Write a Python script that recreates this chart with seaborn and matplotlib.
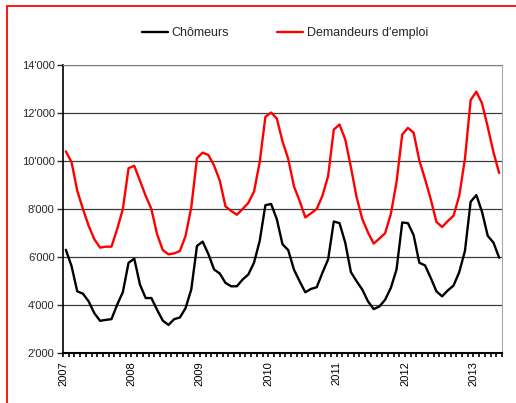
import matplotlib
matplotlib.use("Agg")
import matplotlib.pyplot as plt
import matplotlib.patches as patches
from matplotlib.ticker import FuncFormatter, MultipleLocator, FixedLocator
import seaborn as sns
import pandas as pd
import numpy as np

# monthly values, Jan 2007 - May 2013
chomeurs = [
    6300, 5620, 4570, 4470, 4150, 3660, 3340, 3380, 3410, 4010, 4540, 5760,
    5930, 4850, 4290, 4290, 3800, 3350, 3170, 3410, 3480, 3870, 4650, 6460,
    6640, 6120, 5480, 5310, 4920, 4780, 4780, 5060, 5270, 5760, 6670, 8160,
    8210, 7580, 6530, 6290, 5480, 4990, 4530, 4670, 4740, 5340, 5900, 7480,
    7410, 6600, 5370, 4990, 4640, 4150, 3830, 3940, 4220, 4710, 5480, 7440,
    7410, 6910, 5760, 5650, 5130, 4570, 4360, 4610, 4810, 5370, 6250, 8300,
    8580, 7880, 6880, 6600, 5970,
]
demandeurs = [
    10400, 9950, 8760, 8000, 7300, 6740, 6390, 6430, 6430, 7160, 8000, 9700,
    9800, 9180, 8550, 8000, 6950, 6290, 6110, 6150, 6250, 6880, 8070, 10120,
    10350, 10250, 9810, 9180, 8110, 7920, 7760, 8000, 8250, 8720, 9950, 11840,
    12020, 11770, 10820, 10090, 8950, 8340, 7650, 7820, 8000, 8550, 9370, 11310,
    11520, 10900, 9740, 8490, 7580, 7020, 6560, 6770, 6990, 7790, 9120, 11100,
    11380, 11180, 10020, 9250, 8410, 7460, 7250, 7500, 7720, 8550, 10090, 12540,
    12890, 12400, 11420, 10370, 9500,
]
years = ["2007", "2008", "2009", "2010", "2011", "2012", "2013"]
series_names = ["Chômeurs", "Demandeurs d'emploi"]
colors = ["#000000", "#ff0000"]

month = np.arange(len(chomeurs))
df = pd.DataFrame({
    "mois": np.concatenate([month, month]),
    "valeur": chomeurs + demandeurs,
    "serie": [series_names[0]] * len(chomeurs) + [series_names[1]] * len(demandeurs),
})

sns.set_style("white")
plt.rcParams["font.family"] = ["Liberation Sans", "DejaVu Sans"]

fig = plt.figure(figsize=(5.16, 4.03), dpi=100)
ax = fig.add_axes([63 / 516, 1 - 353 / 403, (502 - 63) / 516, (353 - 65) / 403])

sns.lineplot(data=df, x="mois", y="valeur", hue="serie",
             palette=dict(zip(series_names, colors)), linewidth=1.7, ax=ax)

handles, labels = ax.get_legend_handles_labels()
ax.get_legend().remove()
fig.legend(handles, labels, loc="center", bbox_to_anchor=(285 / 516, 1 - 33 / 403),
           ncol=2, frameon=False, fontsize=9, handlelength=2.1,
           handletextpad=0.3, columnspacing=3.8)

ax.set_xlim(-0.5, len(chomeurs) - 0.5)
ax.set_ylim(2000, 14000)
ax.yaxis.set_major_locator(MultipleLocator(2000))
ax.yaxis.set_major_formatter(FuncFormatter(lambda v, p: f"{int(v):,}".replace(",", "'")))
ax.grid(axis="y", color="#3c3c3c", linewidth=0.9)
ax.set_axisbelow(True)

ax.xaxis.set_major_locator(FixedLocator([-0.5 + 12 * i for i in range(len(years))]))
ax.set_xticklabels(years, rotation=90)
ax.xaxis.set_minor_locator(FixedLocator(np.arange(-0.5, len(chomeurs), 1)))
ax.tick_params(axis="x", which="both", direction="out", length=3, width=1.2,
               bottom=True, labelsize=8, pad=3, colors="black")
ax.tick_params(axis="y", direction="out", length=4, width=1, left=True,
               labelsize=8, pad=2)
ax.set_xlabel("")
ax.set_ylabel("")

ax.spines["left"].set_color("black")
ax.spines["bottom"].set_color("black")
ax.spines["left"].set_linewidth(1.2)
ax.spines["bottom"].set_linewidth(1.5)
ax.spines["top"].set_color("#808080")
ax.spines["right"].set_color("#a8a8a8")

# red outer frame, partly cut off on the right and bottom
fig.add_artist(patches.Rectangle((6.5 / 516, -0.2), 1.2, 1.2 - 5.5 / 403 + 0.0,
                                 transform=fig.transFigure, fill=False,
                                 edgecolor="red", linewidth=1.3))

fig.savefig("out.png", dpi=100)
plt.close(fig)
